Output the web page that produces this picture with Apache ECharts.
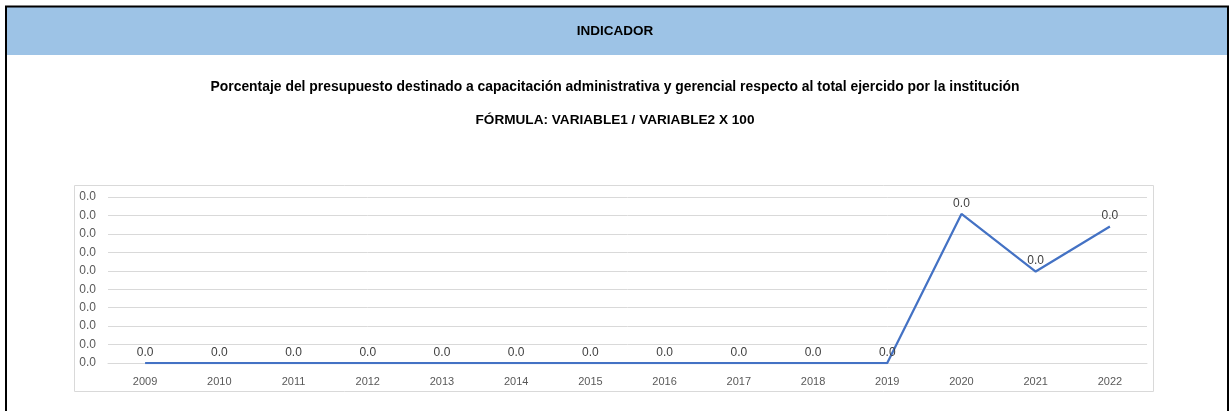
<!DOCTYPE html>
<html>
<head>
<meta charset="utf-8">
<script src="https://cdn.jsdelivr.net/npm/echarts@6/dist/echarts.min.js"></script>
<style>
html,body{margin:0;padding:0;background:#fff;}
#c{width:1230px;height:411px;}
</style>
</head>
<body>
<div id="c"></div>
<script>
var categories = ['2009','2010','2011','2012','2013','2014','2015','2016','2017','2018','2019','2020','2021','2022'];
var values = [0,0,0,0,0,0,0,0,0,0,0,0.0404,0.0248,0.0370];
var headerText = 'INDICADOR';
var titleText = 'Porcentaje del presupuesto destinado a capacitación administrativa y gerencial respecto al total ejercido por la institución';
var formulaText = 'FÓRMULA: VARIABLE1 / VARIABLE2 X 100';

var chart = echarts.init(document.getElementById('c'), null, {renderer:'canvas'});
var font = '"Liberation Sans", Arial, sans-serif';
chart.setOption({
  animation:false,
  textStyle:{fontFamily:font},
  graphic:[
    {type:'rect', z:0, shape:{x:6,y:6,width:1222,height:49}, style:{fill:'#9DC3E6'}},
    {type:'rect', z:1, shape:{x:6,y:6.5,width:1222,height:420}, style:{fill:'none',stroke:'#000',lineWidth:2}},
    {type:'rect', z:1, shape:{x:74.5,y:185.5,width:1079,height:206}, style:{fill:'none',stroke:'#d9d9d9',lineWidth:1}},
    {type:'text', z:2, left:'center', top:24, style:{text:headerText, font:'bold 13.5px '+font, fill:'#000'}},
    {type:'text', z:2, left:'center', top:80, style:{text:titleText, font:'bold 13.9px '+font, fill:'#000'}},
    {type:'text', z:2, left:'center', top:113, style:{text:formulaText, font:'bold 13.6px '+font, fill:'#000'}}
  ],
  grid:{left:108, right:83, top:197, bottom:48},
  xAxis:{
    type:'category', data:categories, boundaryGap:true,
    axisLine:{lineStyle:{color:'#d9d9d9'}}, axisTick:{show:false},
    axisLabel:{color:'#595959', fontSize:11, margin:13}
  },
  yAxis:{
    type:'value', min:0, max:0.045, interval:0.005,
    axisLine:{show:false}, axisTick:{show:false},
    splitLine:{lineStyle:{color:'#d9d9d9'}},
    axisLabel:{color:'#595959', fontSize:12, margin:12, formatter:function(v){return v.toFixed(1);}}
  },
  series:[{
    type:'line', data:values, showSymbol:true, symbol:'circle', symbolSize:1,
    itemStyle:{color:'rgba(68,114,196,0)'},
    lineStyle:{color:'#4472C4', width:2.25},
    label:{show:true, position:'top', distance:4, color:'#404040', fontSize:12,
      formatter:function(p){return p.value.toFixed(1);}}
  }]
});
</script>
</body>
</html>
